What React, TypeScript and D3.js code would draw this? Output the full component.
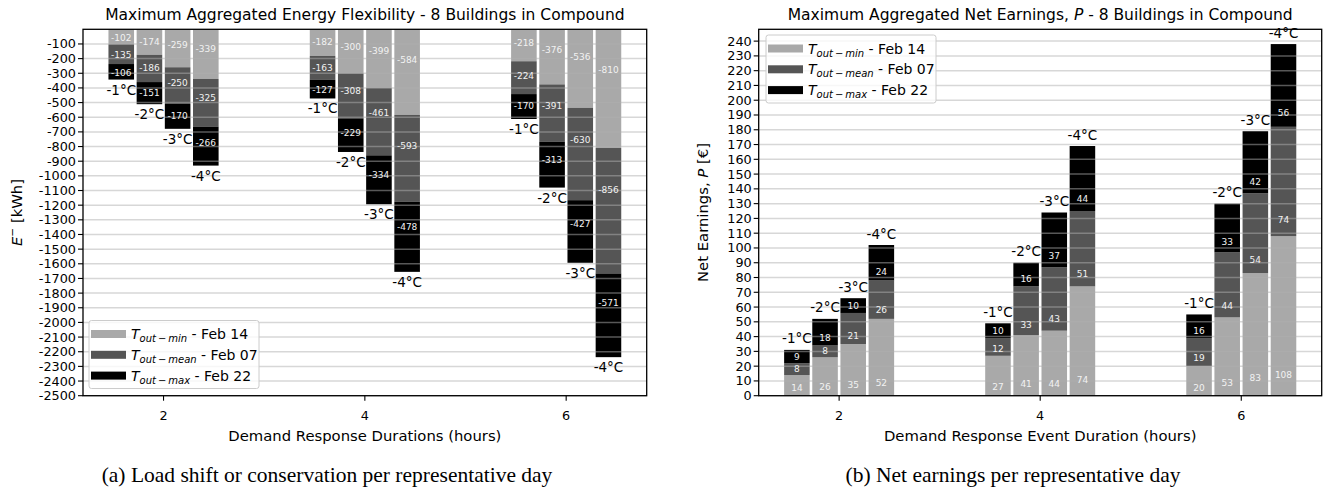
import React from 'react';
import * as d3 from 'd3';

const durations = [2, 4, 6];
const tempLabels = ['-1°C', '-2°C', '-3°C', '-4°C'];
const seriesSubs = ['out\u2009\u2212\u2009min', 'out\u2009\u2212\u2009mean', 'out\u2009\u2212\u2009max'];
const legendDates = ['Feb 14', 'Feb 07', 'Feb 22'];

// Left chart: energy flexibility E- [kWh], per duration group, per temperature bar
const flexMin = [[-102, -174, -259, -339], [-182, -300, -399, -584], [-218, -376, -536, -810]];
const flexMean = [[-135, -186, -250, -325], [-163, -308, -461, -593], [-224, -391, -630, -856]];
const flexMax = [[-106, -151, -170, -266], [-127, -229, -334, -478], [-170, -313, -427, -571]];

// Right chart: net earnings P [€]
const earnMin = [[14, 26, 35, 52], [27, 41, 44, 74], [20, 53, 83, 108]];
const earnMean = [[8, 8, 21, 26], [12, 33, 43, 51], [19, 44, 54, 74]];
const earnMax = [[9, 18, 10, 24], [10, 16, 37, 44], [16, 33, 42, 56]];

const flexTicks = d3.range(-100, -2501, -100);
const earnTicks = d3.range(0, 241, 10);

const colors = ['#a9a9a9', '#555555', '#000000'];
const FONT = 'DejaVu Sans, sans-serif';

const W = 1333;
const H = 492;
const TOP = 29.3;
const BOTTOM = 395.7;
const BAR_STEP = 0.28;
const barOffsets = [-1.5, -0.5, 0.5, 1.5];

type PanelProps = {
  x0: number;
  x1: number;
  domain: [number, number];
  ticks: number[];
  series: number[][][];
  negative: boolean;
  legendX: number;
  legendY: number;
};

function Legend({ x, y }: { x: number; y: number }) {
  return (
    <g>
      <rect x={x} y={y} width={170} height={68} rx={2.5} fill="white" fillOpacity={0.8} stroke="#cccccc" strokeWidth={1} />
      {colors.map((c, i) => {
        const cy = y + 13.5 + i * 20.8;
        return (
          <g key={i}>
            <rect x={x + 2} y={cy - 4} width={35} height={8} fill={c} />
            <text x={x + 42} y={cy + 5} fontFamily={FONT} fontSize={14} fill="#000">
              <tspan fontStyle="italic">T</tspan>
              <tspan fontStyle="italic" fontSize={10} dy={3}>{seriesSubs[i]}</tspan>
              <tspan dy={-3}>{' - ' + legendDates[i]}</tspan>
            </text>
          </g>
        );
      })}
    </g>
  );
}

function Panel({ x0, x1, domain, ticks, series, negative, legendX, legendY }: PanelProps) {
  const x = d3.scaleLinear().domain([1.2, 6.8]).range([x0, x1]);
  const y = d3.scaleLinear().domain(domain).range(negative ? [TOP, BOTTOM] : [BOTTOM, TOP]);
  const stepPx = x(1.2 + BAR_STEP) - x(1.2);
  const barW = stepPx - 2.6;

  const bars: React.ReactNode[] = [];
  const valueLabels: React.ReactNode[] = [];
  const tempTexts: React.ReactNode[] = [];

  durations.forEach((d, g) => {
    tempLabels.forEach((t, b) => {
      const cx = x(d + barOffsets[b] * BAR_STEP);
      let start = 0;
      series.forEach((s, si) => {
        const v = s[g][b];
        const end = start + v;
        const ya = y(start);
        const yb = y(end);
        bars.push(
          <rect key={`r${g}-${b}-${si}`} x={cx - barW / 2} y={Math.min(ya, yb)} width={barW} height={Math.abs(yb - ya)} fill={colors[si]} />
        );
        if (negative) {
          const yl = y(start + 0.3 * v);
          valueLabels.push(
            <text key={`l${g}-${b}-${si}`} x={cx} y={yl + 7.6} textAnchor="middle" fontFamily={FONT} fontSize={9} fill="#f2f2f2">
              {String(v)}
            </text>
          );
        } else {
          const yl = y(start + 0.1 * v);
          valueLabels.push(
            <text key={`l${g}-${b}-${si}`} x={cx} y={yl - 2.2} textAnchor="middle" fontFamily={FONT} fontSize={9} fill="#f2f2f2">
              {String(v)}
            </text>
          );
        }
        start = end;
      });
      const yt = y(start);
      tempTexts.push(
        <text key={`t${g}-${b}`} x={cx} y={negative ? yt + 15 : yt - 6.5} textAnchor="middle" fontFamily={FONT} fontSize={13.5} fill="#000">
          {t}
        </text>
      );
    });
  });

  return (
    <g>
      {bars}
      {ticks.map((tk) => (
        <line key={`g${tk}`} x1={x0} x2={x1} y1={y(tk)} y2={y(tk)} stroke="#b0b0b0" strokeOpacity={0.5} strokeWidth={1.5} />
      ))}
      {valueLabels}
      {tempTexts}
      <rect x={x0} y={TOP} width={x1 - x0} height={BOTTOM - TOP} fill="none" stroke="#000" strokeWidth={1.3} />
      {ticks.map((tk) => (
        <g key={`yt${tk}`}>
          <line x1={x0 - 5} x2={x0} y1={y(tk)} y2={y(tk)} stroke="#000" strokeWidth={1.1} />
          <text x={x0 - 7} y={y(tk) + 4.5} textAnchor="end" fontFamily={FONT} fontSize={12.8} fill="#000">
            {String(tk)}
          </text>
        </g>
      ))}
      {durations.map((d) => (
        <g key={`xt${d}`}>
          <line x1={x(d)} x2={x(d)} y1={BOTTOM} y2={BOTTOM + 5} stroke="#000" strokeWidth={1.1} />
          <text x={x(d)} y={BOTTOM + 24} textAnchor="middle" fontFamily={FONT} fontSize={12.8} fill="#000">
            {d}
          </text>
        </g>
      ))}
      <Legend x={legendX} y={legendY} />
    </g>
  );
}

export default function App() {
  const lx0 = 83, lx1 = 646.7, rx0 = 758.7, rx1 = 1321.7;
  return (
    <svg width={W} height={H} style={{ position: 'absolute', left: 0, top: 0, background: '#fff' }}>
      <rect x={0} y={0} width={W} height={H} fill="#fff" />
      <Panel x0={lx0} x1={lx1} domain={[0, -2500]} ticks={flexTicks} series={[flexMin, flexMean, flexMax]} negative={true} legendX={89} legendY={320.5} />
      <Panel x0={rx0} x1={rx1} domain={[0, 248]} ticks={earnTicks} series={[earnMin, earnMean, earnMax]} negative={false} legendX={766} legendY={35} />

      <text x={(lx0 + lx1) / 2} y={19.5} textAnchor="middle" fontFamily={FONT} fontSize={15.5} fill="#000">
        Maximum Aggregated Energy Flexibility - 8 Buildings in Compound
      </text>
      <text x={(rx0 + rx1) / 2} y={19.5} textAnchor="middle" fontFamily={FONT} fontSize={15.5} fill="#000">
        Maximum Aggregated Net Earnings, <tspan fontStyle="italic">P</tspan> - 8 Buildings in Compound
      </text>

      <text x={(lx0 + lx1) / 2} y={441} textAnchor="middle" fontFamily={FONT} fontSize={14.8} fill="#000">
        Demand Response Durations (hours)
      </text>
      <text x={(rx0 + rx1) / 2} y={441} textAnchor="middle" fontFamily={FONT} fontSize={14.8} fill="#000">
        Demand Response Event Duration (hours)
      </text>

      <text transform={`translate(22,${(TOP + BOTTOM) / 2}) rotate(-90)`} textAnchor="middle" fontFamily={FONT} fontSize={14.8} fill="#000">
        <tspan fontStyle="italic">E</tspan>
        <tspan fontSize={10.5} dy={-6}>{'\u2212'}</tspan>
        <tspan dy={6}>{' [kWh]'}</tspan>
      </text>
      <text transform={`translate(708,${(TOP + BOTTOM) / 2}) rotate(-90)`} textAnchor="middle" fontFamily={FONT} fontSize={14.8} fill="#000">
        Net Earnings, <tspan fontStyle="italic">P</tspan> [€]
      </text>

      <text x={327} y={482} textAnchor="middle" fontFamily="Liberation Serif, serif" fontSize={21.5} fill="#000">
        (a) Load shift or conservation per representative day
      </text>
      <text x={1013} y={482} textAnchor="middle" fontFamily="Liberation Serif, serif" fontSize={21.5} fill="#000">
        (b) Net earnings per representative day
      </text>
    </svg>
  );
}
